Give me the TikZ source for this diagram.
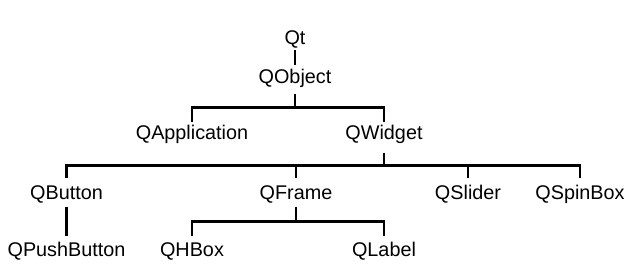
\documentclass[tikz,border=0pt]{standalone}
\usepackage{fontspec}
\setmainfont{Liberation Sans}
\begin{document}
\begin{tikzpicture}[x=1pt,y=-1pt,
  cls/.style={font=\fontsize{19.8}{23}\selectfont, inner sep=0pt, text height=14.2pt, text depth=0pt, anchor=base},
  link/.style={line width=2.7pt, line join=miter}]
\useasboundingbox (0,0) rectangle (629,272);
\fill[white] (0,0) rectangle (629,272);
\node[cls] (qt) at (295,45) {Qt};
\node[cls] (qobj) at (295,83.5) {QObject};
\node[cls] (qapp) at (192,139.5) {QApplication};
\node[cls] (qwid) at (384,139.5) {QWidget};
\node[cls] (qbtn) at (66.5,199.5) {QButton};
\node[cls] (qfrm) at (296,199.5) {QFrame};
\node[cls] (qsld) at (468,199.5) {QSlider};
\node[cls] (qspn) at (580,199.5) {QSpinBox};
\node[cls] (qpush) at (66.5,257) {QPushButton};
\node[cls] (qhbox) at (192,257) {QHBox};
\node[cls] (qlbl) at (384,257) {QLabel};
% Qt -> QObject
\draw[link] ([yshift=-5pt]qt.south) -- ([yshift=4.5pt]qobj.north);
% QObject -> QApplication, QWidget
\draw[link] ([yshift=-10pt]qobj.south) -- ++(0,14) coordinate (b1);
\draw[link] ([yshift=3.5pt]qapp.north) -- (qapp.north |- b1) -- (qwid.north |- b1) -- ([yshift=3.5pt]qwid.north);
% QWidget -> children
\draw[link] ([yshift=-13pt]qwid.south) -- ++(0,13) coordinate (b2);
\draw[link] ([yshift=7pt]qbtn.north) -- (qbtn.north |- b2) -- (qspn.north |- b2) -- ([yshift=7pt]qspn.north);
\draw[link] (qfrm.north |- b2) -- ([yshift=7pt]qfrm.north);
\draw[link] (qsld.north |- b2) -- ([yshift=7pt]qsld.north);
% QButton -> QPushButton
\draw[link] ([yshift=-7pt]qbtn.south) -- ([yshift=6.5pt]qpush.north);
% QFrame -> QHBox, QLabel
\draw[link] ([yshift=-7pt]qfrm.south) -- ++(0,15) coordinate (b3);
\draw[link] ([yshift=6.5pt]qhbox.north) -- (qhbox.north |- b3) -- (qlbl.north |- b3) -- ([yshift=6.5pt]qlbl.north);
\end{tikzpicture}
\end{document}
